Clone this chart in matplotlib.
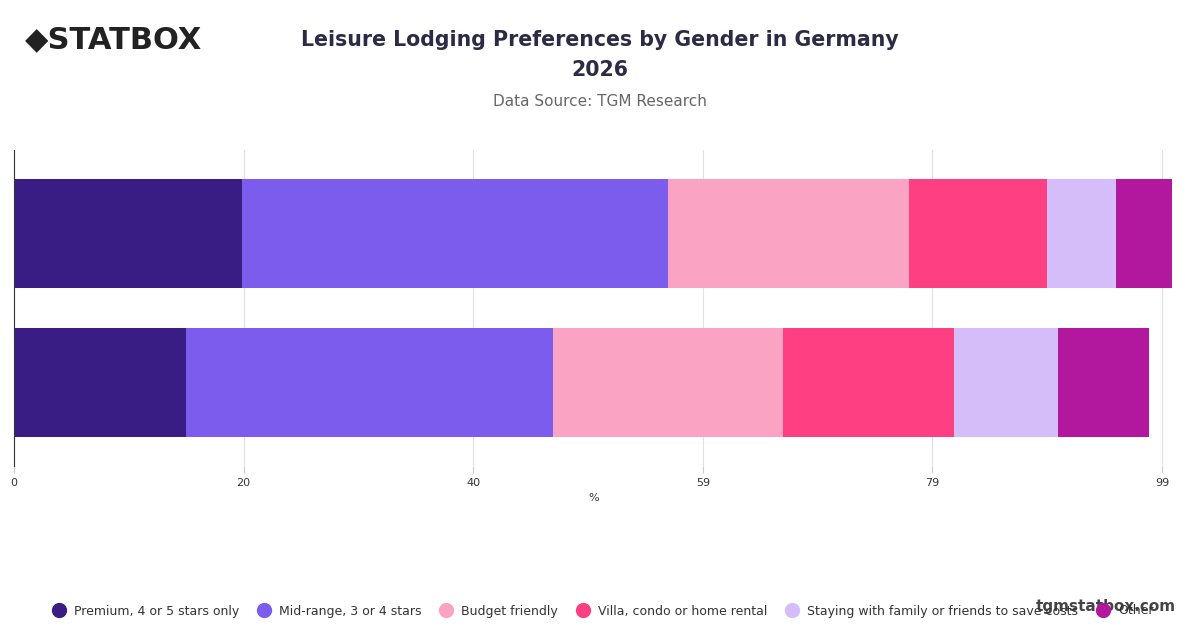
import matplotlib.pyplot as plt
import numpy as np

categories = ["Premium, 4 or 5 stars only", "Mid-range, 3 or 4 stars", "Budget friendly",
              "Villa, condo or home rental", "Staying with family or friends to save costs", "Other"]
groups = ["A", "B"]
values = {
    "A": [19.7, 36.7, 20.8, 11.9, 5.9, 4.9],
    "B": [14.8, 31.7, 19.8, 14.8, 8.9, 7.9],
}
tick_vals = [0, 19.8, 39.6, 59.4, 79.2, 99]
tick_labels = ["0", "20", "40", "59", "79", "99"]
colors = ["#391d84", "#7c5cec", "#fba3c3", "#fe4083", "#d4bdf8", "#b2189e"]

fig = plt.figure(figsize=(12, 6.28), dpi=100)
ax = fig.add_axes([14/1200, 1-466/628, (1162-14)/1200*100/99, (466-150)/628])
ypos = [1, 0]
for g, y in zip(groups, ypos):
    left = 0
    for v, c in zip(values[g], colors):
        ax.barh(y, v, left=left, color=c, height=0.73)
        left += v
ax.set_xlim(0, 100)
ax.set_ylim(-0.56, 1.56)
ax.set_xticks(tick_vals)
ax.set_xticklabels(tick_labels, fontsize=8, color="#333")
ax.set_yticks([])
ax.grid(axis="x", color="#e0e0e0", lw=0.8)
ax.set_axisbelow(True)
for s in ["top", "right", "bottom"]:
    ax.spines[s].set_visible(False)
ax.spines["left"].set_color("#333")
ax.tick_params(axis="x", length=5, color="#ccc")
ax.set_xlabel("%", fontsize=8, color="#333")

fig.text(0.5, 1-40/628, "Leisure Lodging Preferences by Gender in Germany", ha="center", va="center",
         fontsize=14.8, fontweight="bold", color="#2d2a45")
fig.text(0.5, 1-70/628, "2026", ha="center", va="center", fontsize=14.8, fontweight="bold", color="#2d2a45")
fig.text(0.5, 1-101/628, "Data Source: TGM Research", ha="center", va="center", fontsize=11, color="#666")
fig.text(25/1200, 1-40/628, "◆STATBOX", ha="left", va="center", fontsize=22, fontweight="bold", color="#222")
fig.text(0.98, 1-606/628, "tgmstatbox.com", ha="right", va="center", fontsize=11, fontweight="bold", color="#444")

handles = [plt.Line2D([], [], marker="o", ls="", color=c, markersize=10) for c in colors]
fig.legend(handles, categories, loc="center", bbox_to_anchor=(0.5, 1-611/628), ncol=6, frameon=False,
           fontsize=9, handletextpad=0.2, columnspacing=1.0, labelcolor="#333")
fig.savefig("out.png")
